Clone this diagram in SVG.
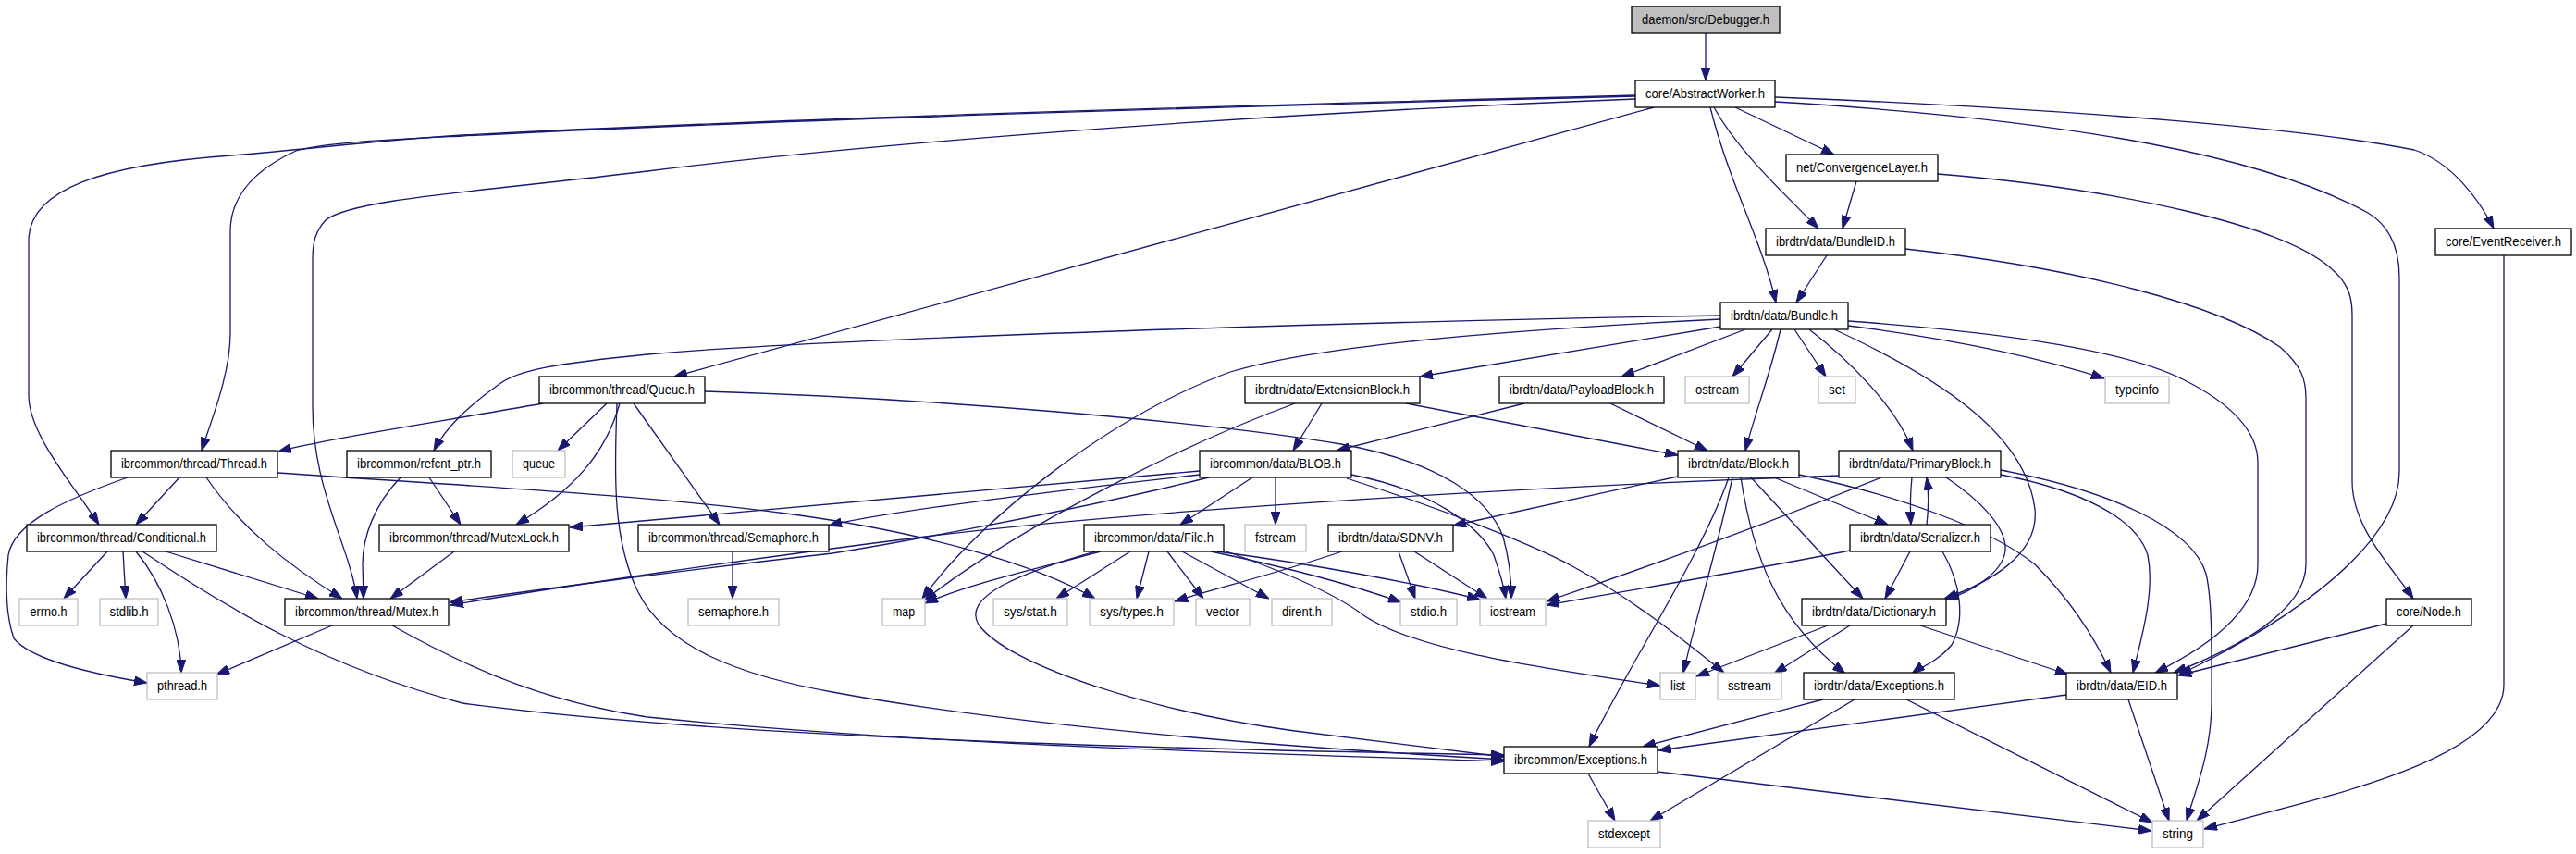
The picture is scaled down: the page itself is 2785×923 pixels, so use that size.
<svg xmlns="http://www.w3.org/2000/svg" width="2785" height="923" viewBox="0 0 2785 923">
<style>
rect{fill:#fff;stroke:#000;stroke-width:1.3}
.g rect{stroke:#bfbfbf}
.root rect{fill:#bfbfbf}
text{font-family:"Liberation Sans",Arial,sans-serif;font-size:14px;text-anchor:middle;fill:#000}
#edges path{fill:none;stroke:#191970;stroke-width:1.3;marker-end:url(#a)}
</style>
<defs>
<marker id="a" markerWidth="14" markerHeight="10" refX="14" refY="5" orient="auto" markerUnits="userSpaceOnUse"><path d="M0,0 L14,5 L0,10 z" fill="#191970" stroke="#191970" stroke-width="1"/></marker>
</defs>
<rect x="0" y="0" width="2785" height="923" style="fill:#fff;stroke:none"/>
<g id="edges">
<path d="M1844,36 L1844,87"/>
<path d="M1768,103 C1300,115 800,130 500,146 C400,152 330,162 250,168 C110,178 31,205 31,260 L31,427 C31,470 80,525 107,567"/>
<path d="M1768,104 C1300,116 800,131 500,147 C420,151 350,154 320,163 C272,185 249,215 249,250 L249,360 C249,405 228,455 218,487"/>
<path d="M1768,107 C1300,125 900,160 700,185 C520,207 380,215 352,238 C341,250 338,262 338,280 L338,440 C338,530 378,590 386,647"/>
<path d="M1788,116 L729,407"/>
<path d="M1849,116 C1870,200 1905,260 1920,327"/>
<path d="M1853,116 C1880,165 1930,210 1966,247"/>
<path d="M1876,116 L1983,167"/>
<path d="M2007,196 L1992,247"/>
<path d="M1975,276 L1942,327"/>
<path d="M1919,105 C2250,118 2500,140 2610,162 C2650,175 2680,215 2696,247"/>
<path d="M1919,110 C2250,130 2450,170 2560,230 C2585,245 2594,270 2594,300 L2594,510 C2594,600 2440,690 2356,729"/>
<path d="M2095,188 C2300,205 2470,245 2520,290 C2538,305 2543,320 2543,340 L2543,520 C2543,570 2585,612 2609,647"/>
<path d="M2060,269 C2250,290 2400,330 2465,375 C2488,395 2493,410 2493,430 L2493,610 C2493,660 2420,700 2350,727"/>
<path d="M2707,276 L2707,740 C2707,820 2520,860 2383,896"/>
<path d="M1998,352 C2100,365 2200,385 2275,409"/>
<path d="M1998,347 C2180,360 2300,380 2360,410 C2420,440 2441,470 2441,500 L2441,610 C2441,665 2375,705 2330,727"/>
<path d="M1983,356 C2100,410 2190,470 2200,550 C2205,600 2150,630 2102,647"/>
<path d="M1860,341 C1500,347 900,365 700,383 C600,393 560,400 540,415 C505,440 482,462 469,487"/>
<path d="M1860,345 C1600,358 1420,375 1330,402 C1200,450 1060,560 997,647"/>
<path d="M1860,353 L1535,407"/>
<path d="M1887,356 L1753,407"/>
<path d="M1916,356 L1873,407"/>
<path d="M1925,356 C1915,400 1898,445 1887,487"/>
<path d="M1940,356 L1974,407"/>
<path d="M1956,356 C2000,390 2050,440 2068,487"/>
<path d="M1648,436 L1445,487"/>
<path d="M1741,436 L1846,487"/>
<path d="M1429,436 L1398,487"/>
<path d="M1520,436 L1814,492"/>
<path d="M1400,436 C1280,480 1100,570 999,649"/>
<path d="M1354,516 L1276,567"/>
<path d="M1379,516 L1379,567"/>
<path d="M1297,509 L616,570"/>
<path d="M1297,513 C1100,535 950,555 896,568"/>
<path d="M1307,516 C1150,555 950,590 900,598 C750,615 560,640 486,651"/>
<path d="M1988,514 C1600,528 1200,555 1000,580 C800,605 600,635 487,654"/>
<path d="M1461,513 C1550,530 1600,570 1615,600 C1622,620 1626,635 1628,647"/>
<path d="M1456,517 C1560,550 1660,590 1700,612 C1770,650 1830,700 1864,727"/>
<path d="M762,423 C1000,430 1300,455 1450,480 C1560,500 1610,540 1625,580 C1632,605 1634,625 1634,647"/>
<path d="M587,436 C450,460 350,475 301,488"/>
<path d="M656,436 L603,487"/>
<path d="M670,436 C655,490 620,530 558,567"/>
<path d="M685,436 L778,567"/>
<path d="M667,436 C665,500 660,580 690,640 C720,700 800,730 900,748 C1100,785 1400,808 1626,821"/>
<path d="M194,516 L147,567"/>
<path d="M223,516 C260,570 310,610 370,647"/>
<path d="M138,516 C70,540 15,565 9,600 C5,640 8,670 15,690 C35,715 110,730 159,738"/>
<path d="M300,511 C500,525 700,535 850,555 C1000,575 1120,610 1184,647"/>
<path d="M464,516 L498,567"/>
<path d="M433,516 C405,545 392,580 392,610 L393,647"/>
<path d="M116,596 L69,647"/>
<path d="M133,596 L136,647"/>
<path d="M147,596 C175,630 195,680 196,727"/>
<path d="M154,596 C250,660 350,720 500,760 C800,800 1300,810 1626,816"/>
<path d="M179,596 L344,647"/>
<path d="M491,596 L422,647"/>
<path d="M792,596 L792,647"/>
<path d="M359,676 L234,729"/>
<path d="M424,676 C520,730 600,760 700,775 C1000,805 1300,812 1626,823"/>
<path d="M1190,596 C1120,615 1050,630 1000,652"/>
<path d="M1184,596 C1100,620 1040,645 1058,675 C1090,720 1250,770 1400,790 C1500,803 1580,812 1626,818"/>
<path d="M1222,596 L1142,647"/>
<path d="M1242,596 L1229,647"/>
<path d="M1262,596 L1301,647"/>
<path d="M1278,596 L1372,647"/>
<path d="M1309,596 C1400,615 1470,635 1515,651"/>
<path d="M1316,596 C1420,610 1530,630 1600,648"/>
<path d="M1323,595 C1380,615 1440,640 1470,662 C1520,700 1650,720 1795,741"/>
<path d="M1512,596 L1530,647"/>
<path d="M1529,596 L1608,647"/>
<path d="M1451,596 C1380,620 1310,637 1270,650"/>
<path d="M1814,515 L1571,568"/>
<path d="M1869,516 C1840,600 1760,720 1718,807"/>
<path d="M1873,516 C1855,600 1830,680 1820,727"/>
<path d="M1882,516 C1895,600 1920,670 1995,728"/>
<path d="M1893,516 L2014,647"/>
<path d="M1918,516 L2041,567"/>
<path d="M1945,513 C2050,535 2150,570 2200,610 C2240,650 2265,690 2282,727"/>
<path d="M2034,516 C1900,570 1760,620 1672,650"/>
<path d="M2067,516 C2065,535 2065,550 2066,567"/>
<path d="M2083,567 C2085,550 2085,530 2083,516"/>
<path d="M2104,516 C2140,540 2170,570 2168,595 C2165,620 2130,640 2104,648"/>
<path d="M2163,513 C2250,530 2310,560 2322,600 C2330,640 2315,690 2306,727"/>
<path d="M2163,508 C2280,530 2370,570 2385,620 C2392,650 2391,700 2391,760 C2391,810 2375,850 2364,887"/>
<path d="M2065,596 L2038,647"/>
<path d="M2000,595 C1900,615 1750,640 1672,654"/>
<path d="M2100,596 C2120,630 2125,670 2110,697 C2095,715 2075,722 2067,728"/>
<path d="M1976,676 L1834,731"/>
<path d="M2000,676 L1918,728"/>
<path d="M2076,676 L2236,729"/>
<path d="M1971,756 L1776,807"/>
<path d="M2005,756 L1784,887"/>
<path d="M2061,756 L2327,889"/>
<path d="M2234,751 L1793,811"/>
<path d="M2301,756 L2345,887"/>
<path d="M2580,674 L2355,730"/>
<path d="M2609,676 L2375,887"/>
<path d="M1717,836 L1746,887"/>
<path d="M1792,834 L2326,898"/>
</g>
<g id="n1" class="root"><rect x="1764" y="7" width="160" height="29"/><text x="1844" y="26" textLength="138" lengthAdjust="spacingAndGlyphs">daemon/src/Debugger.h</text></g>
<g id="n2"><rect x="1768" y="87" width="151" height="29"/><text x="1843.5" y="106" textLength="129" lengthAdjust="spacingAndGlyphs">core/AbstractWorker.h</text></g>
<g id="n3"><rect x="1931" y="167" width="164" height="29"/><text x="2013" y="186" textLength="142" lengthAdjust="spacingAndGlyphs">net/ConvergenceLayer.h</text></g>
<g id="n4"><rect x="1909" y="247" width="151" height="29"/><text x="1984.5" y="266" textLength="129" lengthAdjust="spacingAndGlyphs">ibrdtn/data/BundleID.h</text></g>
<g id="n5"><rect x="2633" y="247" width="147" height="29"/><text x="2706.5" y="266" textLength="125" lengthAdjust="spacingAndGlyphs">core/EventReceiver.h</text></g>
<g id="n6"><rect x="1860" y="327" width="138" height="29"/><text x="1929" y="346" textLength="116" lengthAdjust="spacingAndGlyphs">ibrdtn/data/Bundle.h</text></g>
<g id="n7"><rect x="583" y="407" width="179" height="29"/><text x="672.5" y="426" textLength="157" lengthAdjust="spacingAndGlyphs">ibrcommon/thread/Queue.h</text></g>
<g id="n8"><rect x="1346" y="407" width="189" height="29"/><text x="1440.5" y="426" textLength="167" lengthAdjust="spacingAndGlyphs">ibrdtn/data/ExtensionBlock.h</text></g>
<g id="n9"><rect x="1621" y="407" width="178" height="29"/><text x="1710" y="426" textLength="156" lengthAdjust="spacingAndGlyphs">ibrdtn/data/PayloadBlock.h</text></g>
<g id="n10" class="g"><rect x="1822" y="407" width="69" height="29"/><text x="1856.5" y="426" textLength="47" lengthAdjust="spacingAndGlyphs">ostream</text></g>
<g id="n11" class="g"><rect x="1966" y="407" width="40" height="29"/><text x="1986" y="426" textLength="18" lengthAdjust="spacingAndGlyphs">set</text></g>
<g id="n12" class="g"><rect x="2276" y="407" width="69" height="29"/><text x="2310.5" y="426" textLength="47" lengthAdjust="spacingAndGlyphs">typeinfo</text></g>
<g id="n13"><rect x="120" y="487" width="180" height="29"/><text x="210" y="506" textLength="158" lengthAdjust="spacingAndGlyphs">ibrcommon/thread/Thread.h</text></g>
<g id="n14"><rect x="375" y="487" width="156" height="29"/><text x="453" y="506" textLength="134" lengthAdjust="spacingAndGlyphs">ibrcommon/refcnt_ptr.h</text></g>
<g id="n15" class="g"><rect x="554" y="487" width="57" height="29"/><text x="582.5" y="506" textLength="35" lengthAdjust="spacingAndGlyphs">queue</text></g>
<g id="n16"><rect x="1297" y="487" width="164" height="29"/><text x="1379" y="506" textLength="142" lengthAdjust="spacingAndGlyphs">ibrcommon/data/BLOB.h</text></g>
<g id="n17"><rect x="1814" y="487" width="131" height="29"/><text x="1879.5" y="506" textLength="109" lengthAdjust="spacingAndGlyphs">ibrdtn/data/Block.h</text></g>
<g id="n18"><rect x="1988" y="487" width="175" height="29"/><text x="2075.5" y="506" textLength="153" lengthAdjust="spacingAndGlyphs">ibrdtn/data/PrimaryBlock.h</text></g>
<g id="n19"><rect x="29" y="567" width="205" height="29"/><text x="131.5" y="586" textLength="183" lengthAdjust="spacingAndGlyphs">ibrcommon/thread/Conditional.h</text></g>
<g id="n20"><rect x="410" y="567" width="205" height="29"/><text x="512.5" y="586" textLength="183" lengthAdjust="spacingAndGlyphs">ibrcommon/thread/MutexLock.h</text></g>
<g id="n21"><rect x="690" y="567" width="206" height="29"/><text x="793" y="586" textLength="184" lengthAdjust="spacingAndGlyphs">ibrcommon/thread/Semaphore.h</text></g>
<g id="n22"><rect x="1172" y="567" width="151" height="29"/><text x="1247.5" y="586" textLength="129" lengthAdjust="spacingAndGlyphs">ibrcommon/data/File.h</text></g>
<g id="n23" class="g"><rect x="1346" y="567" width="66" height="29"/><text x="1379" y="586" textLength="44" lengthAdjust="spacingAndGlyphs">fstream</text></g>
<g id="n24"><rect x="1436" y="567" width="135" height="29"/><text x="1503.5" y="586" textLength="113" lengthAdjust="spacingAndGlyphs">ibrdtn/data/SDNV.h</text></g>
<g id="n25"><rect x="2000" y="567" width="152" height="29"/><text x="2076" y="586" textLength="130" lengthAdjust="spacingAndGlyphs">ibrdtn/data/Serializer.h</text></g>
<g id="n26" class="g"><rect x="21" y="647" width="63" height="29"/><text x="52.5" y="666" textLength="40" lengthAdjust="spacingAndGlyphs">errno.h</text></g>
<g id="n27" class="g"><rect x="108" y="647" width="63" height="29"/><text x="139.5" y="666" textLength="42" lengthAdjust="spacingAndGlyphs">stdlib.h</text></g>
<g id="n28"><rect x="308" y="647" width="177" height="29"/><text x="396.5" y="666" textLength="155" lengthAdjust="spacingAndGlyphs">ibrcommon/thread/Mutex.h</text></g>
<g id="n29" class="g"><rect x="744" y="647" width="98" height="29"/><text x="793" y="666" textLength="76" lengthAdjust="spacingAndGlyphs">semaphore.h</text></g>
<g id="n30" class="g"><rect x="954" y="647" width="46" height="29"/><text x="977" y="666" textLength="24" lengthAdjust="spacingAndGlyphs">map</text></g>
<g id="n31" class="g"><rect x="1074" y="647" width="80" height="29"/><text x="1114" y="666" textLength="58" lengthAdjust="spacingAndGlyphs">sys/stat.h</text></g>
<g id="n32" class="g"><rect x="1178" y="647" width="91" height="29"/><text x="1223.5" y="666" textLength="69" lengthAdjust="spacingAndGlyphs">sys/types.h</text></g>
<g id="n33" class="g"><rect x="1293" y="647" width="58" height="29"/><text x="1322" y="666" textLength="36" lengthAdjust="spacingAndGlyphs">vector</text></g>
<g id="n34" class="g"><rect x="1375" y="647" width="65" height="29"/><text x="1407.5" y="666" textLength="43" lengthAdjust="spacingAndGlyphs">dirent.h</text></g>
<g id="n35" class="g"><rect x="1514" y="647" width="61" height="29"/><text x="1544.5" y="666" textLength="39" lengthAdjust="spacingAndGlyphs">stdio.h</text></g>
<g id="n36" class="g"><rect x="1600" y="647" width="71" height="29"/><text x="1635.5" y="666" textLength="49" lengthAdjust="spacingAndGlyphs">iostream</text></g>
<g id="n37"><rect x="1948" y="647" width="156" height="29"/><text x="2026" y="666" textLength="134" lengthAdjust="spacingAndGlyphs">ibrdtn/data/Dictionary.h</text></g>
<g id="n38"><rect x="2580" y="647" width="92" height="29"/><text x="2626" y="666" textLength="70" lengthAdjust="spacingAndGlyphs">core/Node.h</text></g>
<g id="n39" class="g"><rect x="159" y="727" width="76" height="29"/><text x="197" y="746" textLength="54" lengthAdjust="spacingAndGlyphs">pthread.h</text></g>
<g id="n40" class="g"><rect x="1795" y="727" width="38" height="29"/><text x="1814" y="746" textLength="16" lengthAdjust="spacingAndGlyphs">list</text></g>
<g id="n41" class="g"><rect x="1857" y="727" width="69" height="29"/><text x="1891.5" y="746" textLength="47" lengthAdjust="spacingAndGlyphs">sstream</text></g>
<g id="n42"><rect x="1950" y="727" width="163" height="29"/><text x="2031.5" y="746" textLength="141" lengthAdjust="spacingAndGlyphs">ibrdtn/data/Exceptions.h</text></g>
<g id="n43"><rect x="2234" y="727" width="120" height="29"/><text x="2294" y="746" textLength="98" lengthAdjust="spacingAndGlyphs">ibrdtn/data/EID.h</text></g>
<g id="n44"><rect x="1626" y="807" width="166" height="29"/><text x="1709" y="826" textLength="144" lengthAdjust="spacingAndGlyphs">ibrcommon/Exceptions.h</text></g>
<g id="n45" class="g"><rect x="1717" y="887" width="78" height="29"/><text x="1756" y="906" textLength="56" lengthAdjust="spacingAndGlyphs">stdexcept</text></g>
<g id="n46" class="g"><rect x="2327" y="887" width="55" height="29"/><text x="2354.5" y="906" textLength="33" lengthAdjust="spacingAndGlyphs">string</text></g>
</svg>
